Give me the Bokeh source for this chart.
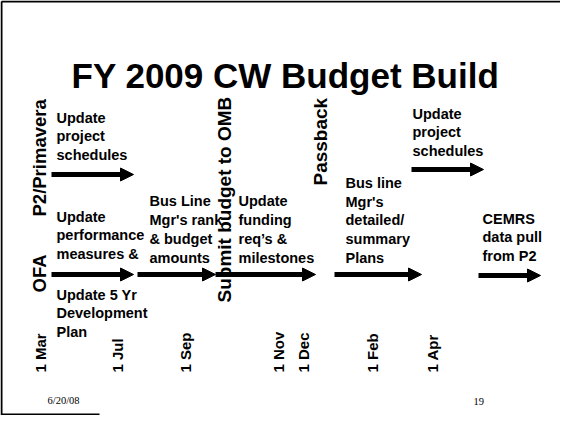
from bokeh.plotting import figure
from bokeh.models import Range1d, ColumnDataSource, Arrow, NormalHead
from bokeh.core.properties import value
from bokeh.embed import file_html
from bokeh.resources import INLINE
import math

SLIDE_H = 431  # slide units are measured from the top of the slide

title_text = "FY 2009 CW Budget Build"

# timeline ticks (milestone dates)
tick_labels = ["1 Mar", "1 Jul", "1 Sep", "1 Nov", "1 Dec", "1 Feb", "1 Apr"]
tick_pos = [48, 125, 193, 286, 311, 380, 440]

# swim-lane names
lane_labels = ["P2/Primavera", "OFA"]
lane_pos = [47, 47]
lane_base = [224, 300]

# milestone events
event_labels = ["Submit budget to OMB", "Passback"]
event_pos = [232, 328]
event_base = [310, 193]

# activities (arrows along the timeline)
act_text = [
    "Update\nproject\nschedules",
    "Update\nproject\nschedules",
    "Update\nperformance\nmeasures &",
    "Bus Line\nMgr's rank\n& budget\namounts",
    "Update\nfunding\nreq\u2019s &\nmilestones",
    "Bus line\nMgr's\ndetailed/\nsummary\nPlans",
    "CEMRS\ndata pull\nfrom P2",
]
act_start = [59, 419, 59, 145, 223, 342, 486]
act_end = [141, 491, 141, 223, 323, 429, 548]
act_lane = [182, 177, 282, 282, 282, 282, 283]
act_text_x = [64, 420, 64, 157, 246, 353, 490]
act_text_y = [144, 140, 243, 237, 237, 228, 245]

note_text = ["Update 5 Yr\nDevelopment\nPlan"]
note_x = [64]
note_y = [321]

footer_left = "6/20/08"
footer_right = "19"


def fy(v):
    return SLIDE_H - v


p = figure(width=560, height=415, output_backend="svg", toolbar_location=None,
           x_range=Range1d(8, 568), y_range=Range1d(fy(423), fy(8)),
           min_border=0)
p.axis.visible = False
p.grid.visible = False
p.outline_line_color = None
p.background_fill_color = "white"
p.border_fill_color = "white"

F = value("Liberation Sans")

# slide frame
p.segment(x0=[9, 9, 9], y0=[fy(9), fy(9), fy(422)],
          x1=[576, 9, 107], y1=[fy(9), fy(427), fy(422)],
          line_color="black", line_width=2)

# title
p.text(x=[293], y=[fy(83)], text=[title_text], text_font=F,
       text_font_style="bold", text_font_size="35px", text_align="center",
       text_baseline="alphabetic", text_color="black")

# lane labels
p.text(x=lane_pos, y=[fy(v) for v in lane_base], text=lane_labels, angle=math.pi / 2,
       text_font=F, text_font_style="bold", text_font_size="18.5px",
       text_align="left", text_baseline="middle", text_color="black")

# event labels
p.text(x=event_pos, y=[fy(v) for v in event_base], text=event_labels, angle=math.pi / 2,
       text_font=F, text_font_style="bold", text_font_size="19px",
       text_align="left", text_baseline="middle", text_color="black")

# activity texts
p.text(x=act_text_x, y=[fy(v) for v in act_text_y], text=act_text, text_font=F,
       text_font_style="bold", text_font_size="14.5px", text_line_height=1.17,
       text_align="left", text_baseline="middle", text_color="black")
p.text(x=note_x, y=[fy(v) for v in note_y], text=note_text, text_font=F,
       text_font_style="bold", text_font_size="14.5px", text_line_height=1.17,
       text_align="left", text_baseline="middle", text_color="black")

# arrows
src = ColumnDataSource(dict(x0=act_start, x1=act_end, y=[fy(v) for v in act_lane]))
p.add_layout(Arrow(x_start="x0", y_start="y", x_end="x1", y_end="y", source=src,
                   line_width=5, line_color="black",
                   end=NormalHead(size=13, fill_color="black", line_color="black")))

# tick labels
p.text(x=tick_pos, y=[fy(380)] * len(tick_pos), text=tick_labels, angle=math.pi / 2,
       text_font=F, text_font_style="bold", text_font_size="15px",
       text_align="left", text_baseline="middle", text_color="black")

# footer
p.text(x=[55], y=[fy(408)], text=[footer_left], text_font=value("Liberation Serif"),
       text_font_size="10.5px", text_align="left", text_baseline="middle", text_color="black")
p.text(x=[481], y=[fy(409)], text=[footer_right], text_font=value("Liberation Serif"),
       text_font_size="10.5px", text_align="left", text_baseline="middle", text_color="black")

open("out.html", "w").write(file_html(p, INLINE))
